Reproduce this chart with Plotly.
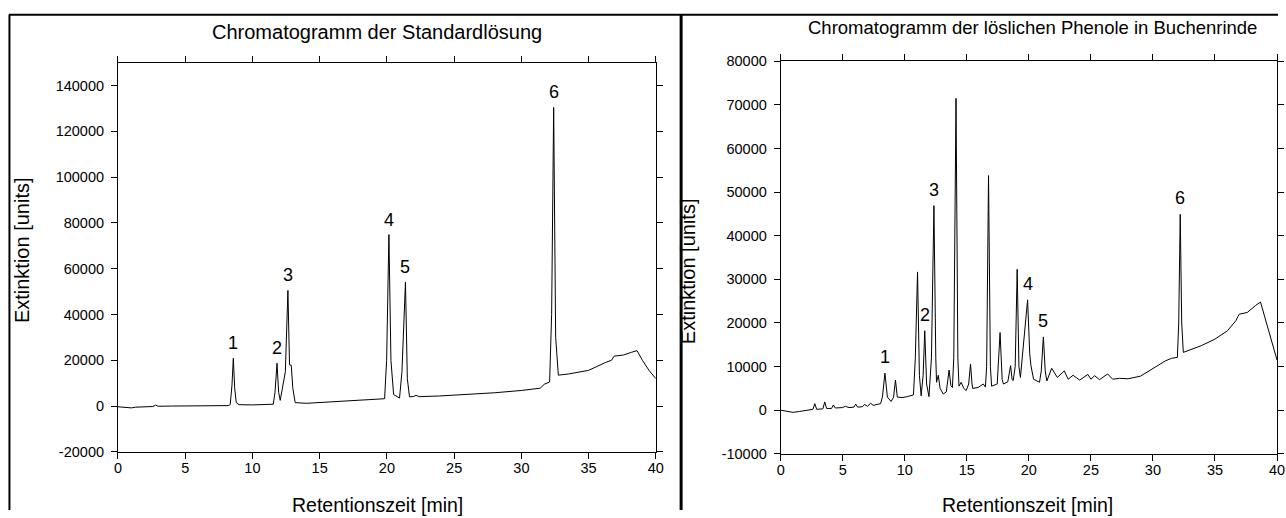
import plotly.graph_objects as go

W, H = 1286, 518

# ---------------- data ----------------
# Left: Chromatogramm der Standardlösung  (time [min], signal [units])
std_time = [0.0, 0.5, 1.0, 1.3, 2.0, 2.6, 2.8, 3.0, 4.0, 6.0, 8.2,
            8.35, 8.48, 8.58, 8.68, 8.8, 9.0, 10.0, 11.0, 11.55,
            11.68, 11.83, 11.95, 12.07,
            12.45, 12.64, 12.76, 12.89, 13.0, 13.18, 14.0, 16.0, 18.0, 19.83,
            19.98, 20.15, 20.3, 20.5, 20.94,
            21.12, 21.38, 21.52, 21.68, 22.0, 22.17, 22.4, 23.9, 26.0, 28.0, 30.0,
            31.0, 31.4, 31.7, 32.1, 32.25, 32.4, 32.55, 32.75, 33.5, 35.0, 36.25,
            36.7, 36.9, 37.6, 38.2, 38.6, 39.0, 39.5, 40.0]
std_signal = [-300, -400, -800, -500, -300, -200, 400, -100, 0, 100, 200,
              600, 9000, 20900, 8000, 1500, 600, 500, 600, 800,
              6000, 18700, 6000, 2500,
              15000, 50500, 18000, 17800, 8000, 1500, 1200, 1800, 2600, 3200,
              20000, 74900, 20000, 5000, 3500,
              15000, 54200, 12000, 4000, 4200, 4700, 4100, 4400, 5000, 5800, 6800,
              7400, 7800, 9500, 10500, 40000, 130400, 30000, 13500, 14000, 15600, 19000,
              20000, 21800, 22300, 23500, 24200, 20000, 15500, 12000]

std_peak_time = [8.58, 11.83, 12.64, 20.15, 21.38, 32.4]
std_peak_signal = [20900, 18700, 50500, 74900, 54200, 130400]
std_peak_labels = ["1", "2", "3", "4", "5", "6"]

# Right: Chromatogramm der löslichen Phenole in Buchenrinde
bark_time = [0.0, 0.5, 1.0, 1.5, 2.0, 2.6, 2.75, 2.9, 3.4, 3.55, 3.7, 4.1, 4.25, 4.4,
             5.0, 5.2, 5.5, 5.9, 6.05, 6.2, 6.6, 6.75, 7.0, 7.25, 7.45, 7.8, 8.05,
             8.2, 8.4, 8.6, 8.9, 9.1, 9.25, 9.4, 9.78, 10.2, 10.7,
             10.85, 11.03, 11.18, 11.32, 11.48, 11.61, 11.76, 11.95,
             12.15, 12.35, 12.5, 12.56, 12.7, 12.85, 13.1, 13.35, 13.57, 13.72, 13.84,
             13.95, 14.13, 14.28, 14.37, 14.55, 14.75, 14.95, 15.15, 15.3, 15.42, 15.48,
             15.9, 16.33, 16.5, 16.6, 16.75, 16.9, 17.0, 17.45, 17.68, 17.85, 17.95,
             18.3, 18.53, 18.65, 18.74, 18.9, 19.06, 19.2, 19.32, 19.55, 19.64,
             19.9, 20.07, 20.17, 20.38, 20.86, 21.0, 21.17, 21.32, 21.45, 21.84,
             22.3, 22.85, 23.17, 23.56, 24.1, 24.76, 25.0, 25.3, 25.7, 26.35, 26.75,
             27.3, 28.0, 29.0, 29.7, 30.5, 31.0, 31.5, 31.97, 32.08, 32.2, 32.32, 32.45,
             33.9, 35.0, 36.0, 36.68, 36.95, 37.6, 38.27, 38.67, 39.2, 39.87, 40.0]
bark_signal = [0, -300, -500, -300, 0, 200, 1500, 200, 300, 1900, 400, 400, 1200, 500,
               600, 900, 600, 700, 1400, 700, 800, 1300, 900, 1600, 1100, 1300, 1500,
               3000, 8500, 3000, 2000, 3000, 6900, 3000, 2900, 3100, 3500,
               12000, 31700, 8000, 3300, 8000, 18200, 6000, 3100,
               12000, 46900, 12000, 6400, 8000, 5000, 3700, 4200, 9200, 5600, 5200,
               12000, 71500, 12000, 5500, 6400, 5000, 4500, 6000, 10600, 6000, 5000,
               5200, 6000, 5300, 10000, 53800, 10000, 5500, 6000, 17800, 7000, 6000,
               6500, 10200, 7000, 6800, 10000, 32300, 10000, 7500, 14000, 16700,
               25300, 13000, 10200, 7100, 6400, 9000, 16800, 9000, 6700, 9600,
               7500, 9000, 7100, 8000, 6900, 8200, 7100, 7900, 7000, 8300, 7100,
               7300, 7200, 7800, 9000, 10300, 11300, 11900, 12100, 20000, 44900, 20000, 13250,
               14800, 16300, 18200, 20500, 22000, 22400, 24000, 24800, 19500, 13250, 11500]

bark_peak_time = [8.4, 11.61, 12.35, 19.9, 21.17, 32.2]
bark_peak_signal = [8500, 18200, 46900, 25300, 16800, 44900]
bark_peak_labels = ["1", "2", "3", "4", "5", "6"]

x_ticks = [0, 5, 10, 15, 20, 25, 30, 35, 40]
x_tick_text = ["0", "5", "10", "15", "20", "25", "30", "35", "40"]
std_y_ticks = [-20000, 0, 20000, 40000, 60000, 80000, 100000, 120000, 140000]
std_y_tick_text = ["-20000", "0", "20000", "40000", "60000", "80000", "100000", "120000", "140000"]
bark_y_ticks = [-10000, 0, 10000, 20000, 30000, 40000, 50000, 60000, 70000, 80000]
bark_y_tick_text = ["-10000", "0", "10000", "20000", "30000", "40000", "50000", "60000", "70000", "80000"]

title_left = "Chromatogramm der Standardlösung"
title_right = "Chromatogramm der löslichen Phenole in Buchenrinde"
x_title = "Retentionszeit [min]"
y_title = "Extinktion [units]"

# ---------------- figure ----------------
FONT = "Liberation Sans, Arial, sans-serif"


def px(x):
    return x / W


def py(y):
    return 1 - y / H


fig = go.Figure()
fig.add_trace(go.Scatter(x=std_time, y=std_signal, mode="lines",
                         line=dict(color="black", width=1), xaxis="x", yaxis="y",
                         showlegend=False, hoverinfo="skip"))
fig.add_trace(go.Scatter(x=bark_time, y=bark_signal, mode="lines",
                         line=dict(color="black", width=1), xaxis="x2", yaxis="y2",
                         showlegend=False, hoverinfo="skip"))

axis_common = dict(showline=True, linecolor="black", linewidth=1, mirror="ticks",
                   ticks="outside", ticklen=6, tickwidth=1, tickcolor="black",
                   showgrid=False, zeroline=False,
                   tickfont=dict(family=FONT, size=14.5, color="black"))

fig.update_layout(
    width=W, height=H,
    margin=dict(l=0, r=0, t=0, b=0),
    paper_bgcolor="white", plot_bgcolor="white",
    xaxis=dict(domain=[px(115), px(658)], range=[0, 40], tickvals=x_ticks,
               ticktext=x_tick_text, anchor="y", ticklabelstandoff=-3, **axis_common),
    yaxis=dict(domain=[py(458), py(56.3)], range=[-20000, 150000], tickvals=std_y_ticks,
               ticktext=std_y_tick_text, anchor="x", ticklabelstandoff=4, **axis_common),
    xaxis2=dict(domain=[px(784), px(1285)], range=[0, 40], tickvals=x_ticks,
                ticktext=x_tick_text, anchor="y2", ticklabelstandoff=-3, **axis_common),
    yaxis2=dict(domain=[py(460), py(55)], range=[-10000, 80000], tickvals=bark_y_ticks,
                ticktext=bark_y_tick_text, anchor="x2", ticklabelstandoff=4, **axis_common),
)

ann = []
for t, v, lab in zip(std_peak_time, std_peak_signal, std_peak_labels):
    ann.append(dict(x=t, y=v, xref="x", yref="y", text=lab, showarrow=False,
                    yshift=15, font=dict(family=FONT, size=18, color="black")))
for t, v, lab in zip(bark_peak_time, bark_peak_signal, bark_peak_labels):
    ann.append(dict(x=t, y=v, xref="x2", yref="y2", text=lab, showarrow=False,
                    yshift=16, font=dict(family=FONT, size=18, color="black")))

text_items = [
    (title_left, 377, 25, 0, 20),
    (title_right, 1038, 20, 0, 18.5),
    (x_title, 377, 513, 0, 19.5),
    (x_title, 1033, 513, 0, 19.5),
    (y_title, 18, 250, -90, 20),
    (y_title, 690, 272, -90, 20),
]
for txt, x, y, ang, size in text_items:
    ann.append(dict(x=px(x), y=py(y), xref="paper", yref="paper", text=txt,
                    showarrow=False, textangle=ang, xanchor="center", yanchor="middle",
                    font=dict(family=FONT, size=size, color="black")))
fig.update_layout(annotations=ann)

shapes = [
    dict(type="line", xref="paper", yref="paper", x0=px(5), x1=1, y0=py(7), y1=py(7),
         line=dict(color="black", width=2)),
    dict(type="line", xref="paper", yref="paper", x0=px(5.5), x1=px(5.5), y0=py(7), y1=0,
         line=dict(color="black", width=2)),
    dict(type="line", xref="paper", yref="paper", x0=px(683.5), x1=px(683.5), y0=py(7), y1=0,
         line=dict(color="black", width=3)),
]
fig.update_layout(shapes=shapes)

post = """
document.documentElement.style.margin='0';
document.documentElement.style.padding='0';
document.documentElement.style.overflow='hidden';
document.body.style.margin='0';
document.body.style.padding='0';
document.body.style.overflow='hidden';
var gd = document.getElementById('{plot_id}');
gd.style.position='fixed'; gd.style.left='0px'; gd.style.top='0px';
"""

fig.write_html("out.html", config={"displayModeBar": False}, post_script=post)
